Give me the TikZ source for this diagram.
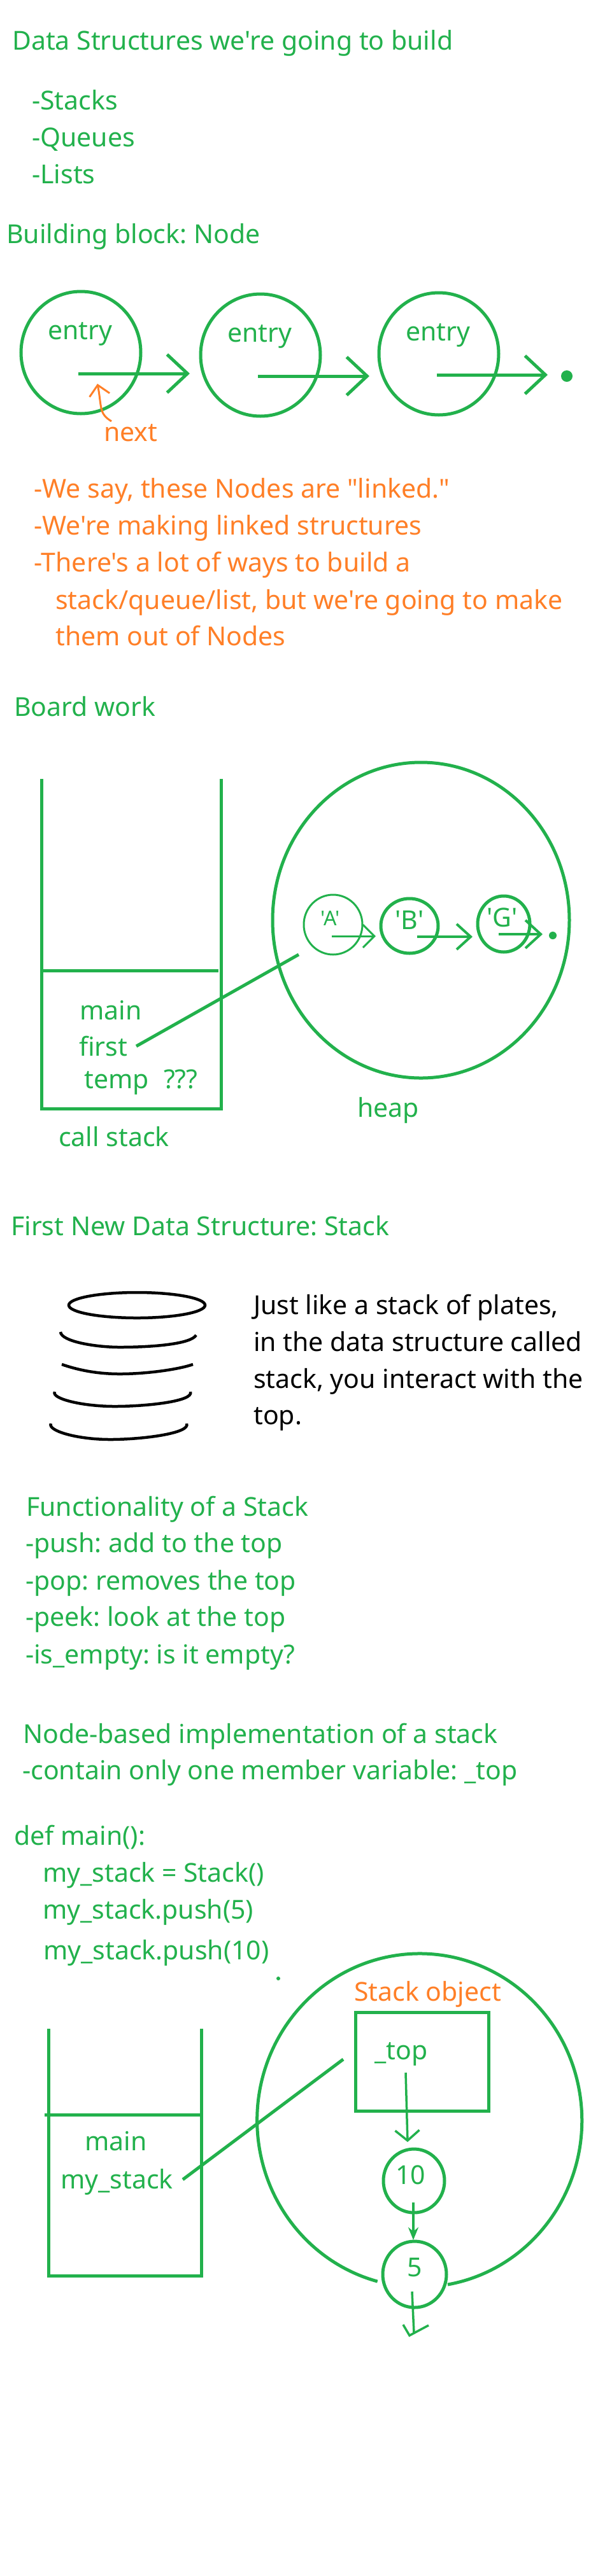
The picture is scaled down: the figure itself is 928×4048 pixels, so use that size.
\documentclass[tikz,border=0pt]{standalone}
\usepackage{fontspec}
\setmainfont[Ligatures=TeXOff]{Noto Sans}
\usetikzlibrary{arrows.meta, shapes.geometric}
\definecolor{ink}{HTML}{22B14C}
\definecolor{note}{HTML}{FF7F27}
\frenchspacing
\tikzset{
  txt/.style={anchor=base west, inner sep=0pt, text=ink, xshift=-3pt},
  orangetxt/.style={txt, text=note},
  blacktxt/.style={txt, text=black},
  smalltxt/.style={txt, font=\fontsize{32}{38}\selectfont},
  blob/.style={ellipse, draw=ink, line width=5pt, inner sep=0pt, minimum width=#1},
  wall/.style={draw=ink, line width=5pt},
  link/.style={wall, -{Straight Barb[length=32pt, width=60pt]}},
  smalllink/.style={wall, line width=4pt, -{Straight Barb[length=18pt, width=36pt]}},
  plate/.style={draw=black, line width=4.5pt},
  dot/.style={circle, fill=ink, inner sep=0pt, minimum size=#1}
}
\begin{document}
\begin{tikzpicture}[x=1pt, y=-1pt, font=\fontsize{41}{48}\selectfont]
  \useasboundingbox (0,0) rectangle (928,4048);
  % lists at the top
  \node[txt] (title) at (22,78) {Data Structures we're going to build};
  \node[txt] (stacks) at (53,172) {-Stacks};
  \node[txt] (queues) at (53,230) {-Queues};
  \node[txt] (lists) at (53,288) {-Lists};
  \node[txt] (block) at (13,382) {Building block: Node};
  % nodes with entry
  \node[blob=188pt, minimum height=192pt] (n1) at (127,554) {};
  \node[blob=188pt, minimum height=192pt] (n2) at (409,558) {};
  \node[blob=188pt, minimum height=192pt] (n3) at (689,556) {};
  \node[txt] (e1) at (78,533) {entry};
  \node[txt] (e2) at (360,537) {entry};
  \node[txt] (e3) at (640,535) {entry};
  \coordinate (n1t) at (123,587);
  \coordinate (n1h) at (298,587);
  \coordinate (n2t) at (405,591);
  \coordinate (n2h) at (580,591);
  \coordinate (n3t) at (686,589);
  \coordinate (n3h) at (860,589);
  \draw[link] (n1t) -- (n1h);
  \draw[link] (n2t) -- (n2h);
  \draw[link] (n3t) -- (n3h);
  \node[dot=18pt] (nil1) at (890,591) {};
  \node[orangetxt] (next) at (166,693) {next};
  \coordinate (nextfoot) at (175,662);
  \coordinate (nextptr) at (153,603);
  \draw[note, line width=3pt, -{Straight Barb[length=16pt, width=32pt]}] (nextfoot) .. controls (155,650) and (160,640) .. (nextptr);
  \node[orangetxt] (say) at (56,782) {-We say, these Nodes are "linked."};
  \node[orangetxt] (making) at (56,840) {-We're making linked structures};
  \node[orangetxt] (ways) at (56,898) {-There's a lot of ways to build a};
  \node[orangetxt] (ways2) at (90,957) {stack/queue/list, but we're going to make};
  \node[orangetxt] (ways3) at (90,1014) {them out of Nodes};
  % board work
  \node[txt] (board) at (25,1125) {Board work};
  \draw[wall] (65,1224) -- (65,1742) -- (347,1742) -- (347,1224);
  \draw[wall] (63,1525) -- (343,1525);
  \node[txt] (main1) at (128,1602) {main};
  \node[txt] (first) at (127,1659) {first};
  \node[txt] (temp) at (135,1710) {temp};
  \node[txt] (unknown) at (260,1710) {???};
  \node[txt] (callstack) at (95,1801) {call stack};
  \node[blob=466pt, minimum height=496pt] (heap) at (661,1446) {};
  \node[txt] (heaplabel) at (564,1755) {heap};
  \node[blob=92pt, minimum height=94pt, line width=3pt] (a) at (523,1453) {};
  \node[blob=90pt, minimum height=86pt] (b) at (643,1455) {};
  \node[blob=82pt, minimum height=88pt] (g) at (791,1452) {};
  \node[smalltxt] (atxt) at (506,1454) {'A'};
  \node[txt] (btxt) at (623,1460) {'B'};
  \node[txt] (gtxt) at (767,1456) {'G'};
  \coordinate (at) at (521,1471);
  \coordinate (ah) at (590,1471);
  \coordinate (bt) at (655,1472);
  \coordinate (bh) at (742,1472);
  \coordinate (gt) at (783,1468);
  \coordinate (gh) at (852,1468);
  \draw[smalllink, line width=3pt] (at) -- (ah);
  \draw[smalllink, -{Straight Barb[length=22pt, width=40pt]}] (bt) -- (bh);
  \draw[smalllink, -{Straight Barb[length=24pt, width=44pt]}] (gt) -- (gh);
  \node[dot=12pt] (nil2) at (868,1470) {};
  \coordinate (firstptr) at (214,1644);
  \coordinate (aptr) at (469,1500);
  \draw[wall] (firstptr) -- (aptr);
  % plates
  \node[txt] (newds) at (20,1941) {First New Data Structure: Stack};
  \draw[plate] (215,2051) ellipse [x radius=107pt, y radius=20pt];
  \draw[plate] (95,2093) .. controls (96,2108) and (150,2117) .. (188,2117) .. controls (240,2117) and (300,2112) .. (308,2098);
  \draw[plate] (97,2144) .. controls (120,2152) and (150,2159) .. (188,2159) .. controls (230,2159) and (280,2152) .. (303,2144);
  \draw[plate] (86,2187) .. controls (80,2198) and (130,2210) .. (180,2210) .. controls (230,2210) and (305,2202) .. (299,2187);
  \draw[plate] (80,2237) .. controls (74,2248) and (120,2262) .. (173,2262) .. controls (225,2262) and (300,2252) .. (293,2237);
  \node[blacktxt] (just1) at (401,2065) {Just like a stack of plates,};
  \node[blacktxt] (just2) at (401,2123) {in the data structure called};
  \node[blacktxt] (just3) at (401,2181) {stack, you interact with the};
  \node[blacktxt] (just4) at (401,2238) {top.};
  % functionality
  \node[txt] (func) at (44,2382) {Functionality of a Stack};
  \node[txt] (push) at (43,2439) {-push: add to the top};
  \node[txt] (pop) at (43,2498) {-pop: removes the top};
  \node[txt] (peek) at (43,2555) {-peek: look at the top};
  \node[txt] (isempty) at (43,2614) {-is\_empty: is it empty?};
  \node[txt] (impl) at (39,2739) {Node-based implementation of a stack};
  \node[txt] (member) at (38,2796) {-contain only one member variable: \_top};
  \node[txt] (def) at (25,2899) {def main():};
  \node[txt] (code1) at (70,2957) {my\_stack = Stack()};
  \node[txt] (code2) at (70,3015) {my\_stack.push(5)};
  \node[txt] (code3) at (71,3079) {my\_stack.push(10)};
  \node[dot=6pt] (speck) at (437,3109) {};
  % last stack and object
  \draw[wall] (76,3188) -- (76,3576) -- (316,3576) -- (316,3188);
  \draw[wall] (70,3323) -- (316,3323);
  \node[txt] (main2) at (136,3379) {main};
  \node[txt] (mystack) at (98,3439) {my\_stack};
  \coordinate (objright) at (703,3590);
  \draw[wall] (objright) arc[start angle=-80, end angle=255, x radius=255pt, y radius=262pt];
  \node[orangetxt] (objlabel) at (559,3144) {Stack object};
  \node[draw=ink, line width=5pt, minimum width=209pt, minimum height=155pt, inner sep=0pt] (obj) at (662.5,3239.5) {};
  \node[txt] (toplabel) at (591,3236) {\_top};
  \node[blob=96pt, minimum height=100pt] (ten) at (650,3427) {};
  \node[blob=100pt, minimum height=104pt] (five) at (651,3574) {};
  \node[txt] (tentxt) at (624,3432) {10};
  \node[txt] (fivetxt) at (642,3577) {5};
  \coordinate (mystackptr) at (287,3425);
  \coordinate (objptr) at (539,3236);
  \draw[wall] (mystackptr) -- (objptr);
  \coordinate (topt) at (637,3257);
  \coordinate (toph) at (640,3366);
  \draw[wall, line width=3.5pt, -{Straight Barb[length=16pt, width=38pt]}] (topt) -- (toph);
  \coordinate (tent) at (649,3461);
  \coordinate (tenh) at (649,3520);
  \draw[wall, line width=3.5pt, -{Stealth[length=20pt, width=16pt]}] (tent) -- (tenh);
  \coordinate (fivet) at (647,3601);
  \coordinate (fiveh) at (650,3666);
  \draw[wall, line width=3.5pt] (fivet) -- (fiveh);
  \draw[wall, line width=3.5pt] (633,3653) -- (643,3670) -- (673,3654);
\end{tikzpicture}
\end{document}
